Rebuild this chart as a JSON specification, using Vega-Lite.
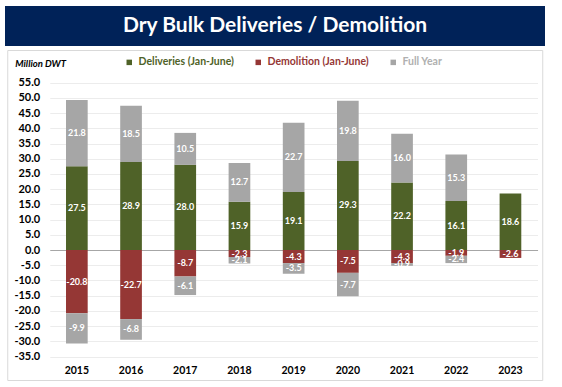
{
  "$schema": "https://vega.github.io/schema/vega-lite/v6.json",
  "padding": {"top": 6, "left": 5, "right": 0, "bottom": 0},
  "background": "white",
  "spacing": 3,
  "center": true,
  "config": {
    "locale": {"number": {"decimal": ".", "thousands": ",", "grouping": [3], "currency": ["$", ""], "minus": "-"}},
    "font": "Lato"
  },
  "vconcat": [
    {
      "width": 540,
      "height": 40,
      "view": {"fill": "#002258", "stroke": null},
      "data": {"values": [{"t": "Dry Bulk Deliveries / Demolition"}]},
      "mark": {"type": "text", "font": "Lato", "fontSize": 21, "fontWeight": "bold", "color": "white", "baseline": "middle", "align": "center"},
      "encoding": {"text": {"field": "t"}}
    },
    {
      "width": 535,
      "height": 330,
      "view": {"fill": "white", "stroke": "#d9d9d9", "strokeWidth": 1},
      "data": {"values": [
        {"year": "2015", "series": "Deliveries (Jan-June)", "value": 27.5, "ord": 1},
        {"year": "2015", "series": "Full Year", "value": 21.8, "ord": 3},
        {"year": "2015", "series": "Demolition (Jan-June)", "value": -20.8, "ord": 2},
        {"year": "2015", "series": "Full Year", "value": -9.9, "ord": 3},
        {"year": "2016", "series": "Deliveries (Jan-June)", "value": 28.9, "ord": 1},
        {"year": "2016", "series": "Full Year", "value": 18.5, "ord": 3},
        {"year": "2016", "series": "Demolition (Jan-June)", "value": -22.7, "ord": 2},
        {"year": "2016", "series": "Full Year", "value": -6.8, "ord": 3},
        {"year": "2017", "series": "Deliveries (Jan-June)", "value": 28.0, "ord": 1},
        {"year": "2017", "series": "Full Year", "value": 10.5, "ord": 3},
        {"year": "2017", "series": "Demolition (Jan-June)", "value": -8.7, "ord": 2},
        {"year": "2017", "series": "Full Year", "value": -6.1, "ord": 3},
        {"year": "2018", "series": "Deliveries (Jan-June)", "value": 15.9, "ord": 1},
        {"year": "2018", "series": "Full Year", "value": 12.7, "ord": 3},
        {"year": "2018", "series": "Demolition (Jan-June)", "value": -2.3, "ord": 2},
        {"year": "2018", "series": "Full Year", "value": -2.1, "ord": 3},
        {"year": "2019", "series": "Deliveries (Jan-June)", "value": 19.1, "ord": 1},
        {"year": "2019", "series": "Full Year", "value": 22.7, "ord": 3},
        {"year": "2019", "series": "Demolition (Jan-June)", "value": -4.3, "ord": 2},
        {"year": "2019", "series": "Full Year", "value": -3.5, "ord": 3},
        {"year": "2020", "series": "Deliveries (Jan-June)", "value": 29.3, "ord": 1},
        {"year": "2020", "series": "Full Year", "value": 19.8, "ord": 3},
        {"year": "2020", "series": "Demolition (Jan-June)", "value": -7.5, "ord": 2},
        {"year": "2020", "series": "Full Year", "value": -7.7, "ord": 3},
        {"year": "2021", "series": "Deliveries (Jan-June)", "value": 22.2, "ord": 1},
        {"year": "2021", "series": "Full Year", "value": 16.0, "ord": 3},
        {"year": "2021", "series": "Demolition (Jan-June)", "value": -4.3, "ord": 2},
        {"year": "2021", "series": "Full Year", "value": -0.9, "ord": 3},
        {"year": "2022", "series": "Deliveries (Jan-June)", "value": 16.1, "ord": 1},
        {"year": "2022", "series": "Full Year", "value": 15.3, "ord": 3},
        {"year": "2022", "series": "Demolition (Jan-June)", "value": -1.9, "ord": 2},
        {"year": "2022", "series": "Full Year", "value": -2.4, "ord": 3},
        {"year": "2023", "series": "Deliveries (Jan-June)", "value": 18.6, "ord": 1},
        {"year": "2023", "series": "Demolition (Jan-June)", "value": -2.6, "ord": 2}
      ]},
      "transform": [
        {"stack": "value", "groupby": ["year"], "sort": [{"field": "ord", "order": "ascending"}], "as": ["v0", "v1"], "offset": "zero"}
      ],
      "layer": [
        {
          "mark": {"type": "bar"},
          "encoding": {
            "x": {
              "field": "year", "type": "nominal",
              "scale": {"range": [42.5, 530.3], "paddingInner": 0.6, "paddingOuter": 0.3},
              "axis": {"title": null, "orient": "bottom", "offset": -17, "domain": false, "ticks": false, "labelPadding": 2, "labelAngle": 0, "labelFont": "Lato", "labelFontSize": 10.5, "labelFontWeight": "bold", "labelColor": "#000000", "grid": false}
            },
            "y": {
              "field": "v0", "type": "quantitative",
              "scale": {"domain": [-35, 55], "range": [306.5, 32.7], "nice": false, "zero": false},
              "axis": {
                "title": "Million DWT", "titleAngle": 0, "titleAlign": "left", "titleBaseline": "middle", "titleX": -35, "titleY": 13.7,
                "titleFont": "Lato", "titleFontSize": 9.5, "titleFontStyle": "italic", "titleFontWeight": "bold", "titleColor": "#000000",
                "values": [-35, -30, -25, -20, -15, -10, -5, 0, 5, 10, 15, 20, 25, 30, 35, 40, 45, 50, 55],
                "tickCount": 30, "labelOverlap": false,
                "format": ".1f", "offset": -42.5, "domain": false, "ticks": false, "labelPadding": 10,
                "labelFont": "Lato", "labelFontSize": 11, "labelFontWeight": "bold", "labelColor": "#000000",
                "grid": true, "gridColor": {"condition": {"test": "datum.value === 0", "value": "#a6a6a6"}, "value": "#ececec"}, "gridWidth": 1
              }
            },
            "y2": {"field": "v1"},
            "color": {
              "field": "series", "type": "nominal",
              "scale": {"domain": ["Deliveries (Jan-June)", "Demolition (Jan-June)", "Full Year"], "range": ["#4f6228", "#953735", "#a6a6a6"]},
              "legend": {
                "title": null, "orient": "none", "direction": "horizontal", "legendX": 119, "legendY": 51,
                "symbolType": "square", "symbolSize": 30, "symbolStrokeWidth": 0, "labelOffset": 4, "columnPadding": 19, "padding": 0,
                "labelFont": "Lato", "labelFontSize": 10.5, "labelFontWeight": "bold",
                "encode": {"labels": {"update": {"fill": {"signal": "datum.label === 'Deliveries (Jan-June)' ? '#4f6228' : datum.label === 'Demolition (Jan-June)' ? '#953735' : '#b0b0b0'"}}}}
              }
            }
          }
        },
        {
          "transform": [
            {"fold": ["v0", "v1"], "as": ["edge", "pos"]}
          ],
          "mark": {"type": "text", "font": "Lato", "fontSize": 9, "fontWeight": "bold", "color": "white", "baseline": "middle", "align": "center"},
          "encoding": {
            "x": {"field": "year", "type": "nominal"},
            "y": {"field": "pos", "type": "quantitative", "aggregate": "mean"},
            "detail": [{"field": "series", "type": "nominal"}, {"field": "ord", "type": "ordinal"}],
            "text": {"field": "value", "type": "quantitative", "format": ".1f"}
          }
        }
      ]
    }
  ]
}
